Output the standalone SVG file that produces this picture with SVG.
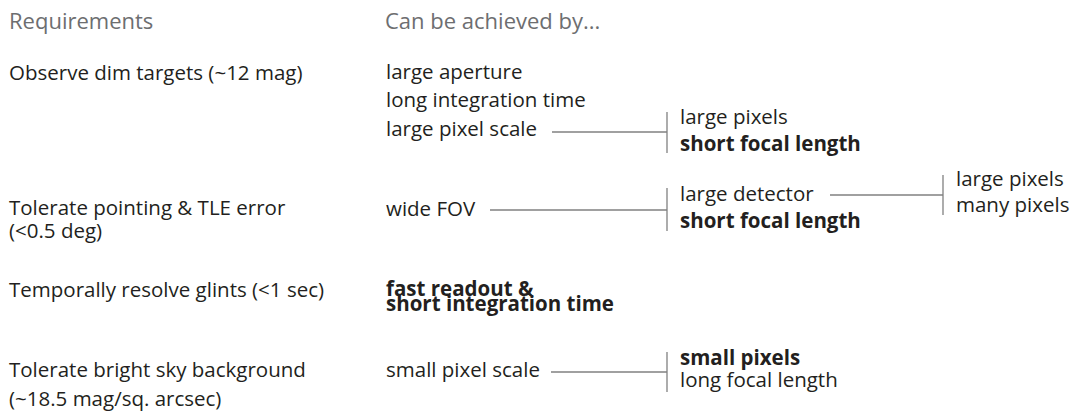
<svg xmlns="http://www.w3.org/2000/svg" width="1076" height="414" viewBox="0 0 1076 414">
<style>
text{font-family:"Open Sans","Liberation Sans",sans-serif;font-size:20.5px;fill:#231f20}
.h{fill:#6d6e70;font-size:22px}
.b{font-weight:bold}
.c line{stroke:#808080;stroke-width:1.3}
</style>
<rect width="1076" height="414" fill="#fff"/>
<g id="headers">
<text class="h" x="9" y="29">Requirements</text>
<text class="h" x="385" y="29">Can be achieved by...</text>
</g>
<g id="req1"><text x="9" y="80">Observe dim targets (~12 mag)</text></g>
<g id="req2"><text x="9" y="215">Tolerate pointing &amp; TLE error</text><text x="9" y="238">(&lt;0.5 deg)</text></g>
<g id="req3"><text x="9" y="297">Temporally resolve glints (&lt;1 sec)</text></g>
<g id="req4"><text x="9" y="377">Tolerate bright sky background</text><text x="9" y="406">(~18.5 mag/sq. arcsec)</text></g>
<g id="a1"><text x="386" y="79">large aperture</text></g>
<g id="a2"><text x="386" y="107">long integration time</text></g>
<g id="a3"><text x="386" y="136">large pixel scale</text></g>
<g id="a4"><text x="386" y="216">wide FOV</text></g>
<g id="a5"><text class="b" x="386" y="296">fast readout &amp;</text><text class="b" x="386" y="310.5">short integration time</text></g>
<g id="a6"><text x="386" y="377">small pixel scale</text></g>
<g id="b1"><text x="680" y="124">large pixels</text><text class="b" x="680" y="151">short focal length</text></g>
<g id="b2"><text x="680" y="201">large detector</text><text class="b" x="680" y="228">short focal length</text></g>
<g id="b3"><text class="b" x="680" y="365">small pixels</text><text x="680" y="387">long focal length</text></g>
<g id="c1"><text x="956" y="186">large pixels</text><text x="956" y="212">many pixels</text></g>
<g id="connectors" class="c">
<line x1="552" y1="132" x2="667" y2="132"/>
<line x1="667" y1="112" x2="667" y2="153"/>
<line x1="490" y1="210" x2="667" y2="210"/>
<line x1="667" y1="188" x2="667" y2="231"/>
<line x1="830" y1="195" x2="943" y2="195"/>
<line x1="943" y1="175" x2="943" y2="215"/>
<line x1="551" y1="372" x2="667" y2="372"/>
<line x1="667" y1="352" x2="667" y2="392"/>
</g>
</svg>
